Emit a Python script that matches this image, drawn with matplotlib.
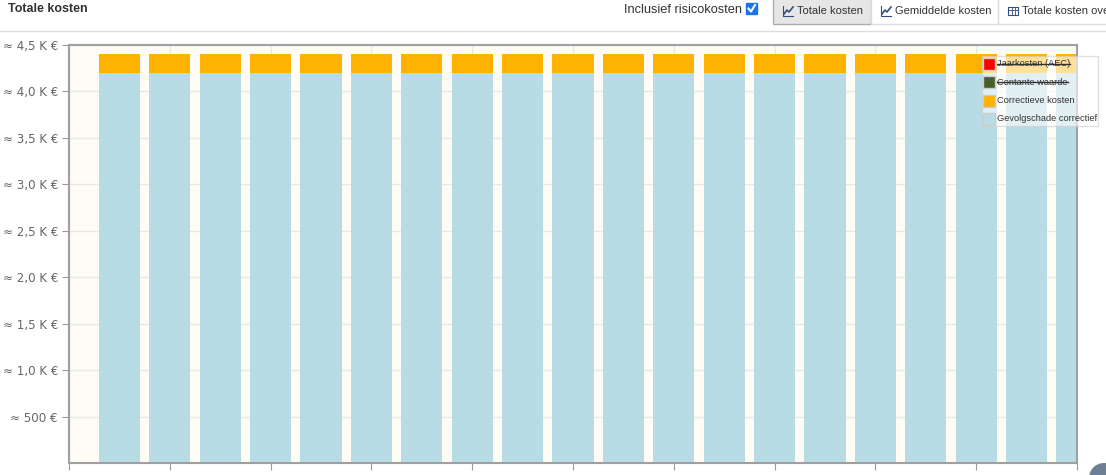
import matplotlib
matplotlib.use("Agg")
import matplotlib.pyplot as plt
from matplotlib.patches import Rectangle, Circle
from matplotlib.lines import Line2D
from matplotlib.transforms import Affine2D

# data
periods = list(range(20))
gevolgschade = [4200] * 20
correctief = [200] * 20
y_ticks = [500, 1000, 1500, 2000, 2500, 3000, 3500, 4000, 4500]
y_labels = ["≈ 500 €", "≈ 1,0 K €", "≈ 1,5 K €", "≈ 2,0 K €", "≈ 2,5 K €",
            "≈ 3,0 K €", "≈ 3,5 K €", "≈ 4,0 K €", "≈ 4,5 K €"]
legend_names = ["Jaarkosten (AEC)", "Contante waarde", "Correctieve kosten", "Gevolgschade correctief"]
legend_colors = ["#ff0000", "#4a5e2a", "#ffb300", "#b8dce6"]
legend_hidden = [True, True, False, False]

W, H = 1106, 475
fig = plt.figure(figsize=(W / 100, H / 100), dpi=100)
pix = Affine2D().scale(1 / W, -1 / H).translate(0, 1) + fig.transFigure

ax = fig.add_axes([69 / W, (H - 463.4) / H, 1008 / W, 418.4 / H])
ax.set_facecolor("#fffcf5")
ax.bar(periods, gevolgschade, width=0.82, color="#b8dce6", zorder=2)
ax.bar(periods, correctief, width=0.82, bottom=gevolgschade, color="#ffb300", zorder=2)
ax.set_xlim(-1, 19)
ax.set_ylim(0, 4500)
ax.set_yticks(y_ticks)
ax.set_yticklabels(y_labels)
ax.set_xticks(range(-1, 20, 2))
ax.set_xticklabels([])
ax.grid(True, color="#e8e8e8", linewidth=1, zorder=0)
ax.set_axisbelow(True)
ax.tick_params(axis="y", length=5, color="#999999", labelcolor="#666666", labelsize=8.6, pad=3)
ax.tick_params(axis="x", length=5, color="#999999")
for s in ax.spines.values():
    s.set_color("#a0a0a0")
    s.set_linewidth(1.5)
for lbl in ax.get_yticklabels():
    lbl.set_fontfamily("DejaVu Sans")

# header
fig.text(8, 9, "Totale kosten", transform=pix, fontsize=9, fontweight="bold",
         color="#333333", family="Liberation Sans", va="center")
fig.add_artist(Line2D([0, W], [30.5, 30.5], transform=pix, color="#dddddd", lw=1))
fig.text(742, 10, "Inclusief risicokosten", transform=pix, fontsize=9.2, color="#333333",
         family="Liberation Sans", va="center", ha="right")
fig.add_artist(Rectangle((746, 3), 11, 11, transform=pix, facecolor="#1a73e8",
                         edgecolor="#1a73e8", lw=1))
fig.add_artist(Line2D([748.5, 751, 755], [8.5, 11.5, 5], transform=pix, color="white", lw=1.5))

buttons = [(773, 871, "Totale kosten", True), (871, 998, "Gemiddelde kosten", False),
           (998, 1120, "Totale kosten ove", False)]
for x0, x1, txt, active in buttons:
    fig.add_artist(Rectangle((x0, -2), x1 - x0, 26, transform=pix,
                             facecolor="#e6e6e6" if active else "white",
                             edgecolor="#adadad" if active else "#dddddd", lw=1))
    fig.text(x0 + 24, 11, txt, transform=pix, fontsize=8, color="#333333",
             family="Liberation Sans", va="center")
    if x0 < 990:
        fig.add_artist(Line2D([x0 + 10, x0 + 10, x0 + 20], [6, 16, 16], transform=pix,
                              color="#34507a", lw=0.8))
        fig.add_artist(Line2D([x0 + 11, x0 + 14, x0 + 16, x0 + 20], [14, 10, 12, 7], transform=pix,
                              color="#34507a", lw=1.2))
    else:
        fig.add_artist(Rectangle((x0 + 10, 7), 10, 8, transform=pix, facecolor="none",
                                 edgecolor="#34507a", lw=0.8))
        fig.add_artist(Line2D([x0 + 10, x0 + 20], [10, 10], transform=pix, color="#34507a", lw=0.6))
        fig.add_artist(Line2D([x0 + 13.5, x0 + 13.5], [7, 15], transform=pix, color="#34507a", lw=0.6))
        fig.add_artist(Line2D([x0 + 16.5, x0 + 16.5], [7, 15], transform=pix, color="#34507a", lw=0.6))

# legend
fig.add_artist(Rectangle((982, 56), 116, 70, transform=pix, facecolor="white", alpha=0.6,
                         edgecolor="#cccccc", lw=1, zorder=5))
texts = []
for i, (name, col, hid) in enumerate(zip(legend_names, legend_colors, legend_hidden)):
    yc = 64 + i * 18.3
    fig.add_artist(Rectangle((983, yc - 6), 12, 12, transform=pix, facecolor=col,
                             edgecolor="#cccccc", lw=1, zorder=6))
    t = fig.text(997, yc, name, transform=pix, fontsize=6.7, color="#333333",
                 family="Liberation Sans", va="center", zorder=6)
    texts.append((t, yc, hid))

fig.canvas.draw()
r = fig.canvas.get_renderer()
for t, yc, hid in texts:
    if hid:
        bb = t.get_window_extent(r)
        fig.add_artist(Line2D([bb.x0, bb.x1], [H - yc, H - yc], transform=None,
                              color="#333333", lw=1, zorder=7))

fig.add_artist(Circle((1104, 478), 15, transform=pix, facecolor="#6e7f94", edgecolor="none"))

fig.savefig("out.png", dpi=100)
